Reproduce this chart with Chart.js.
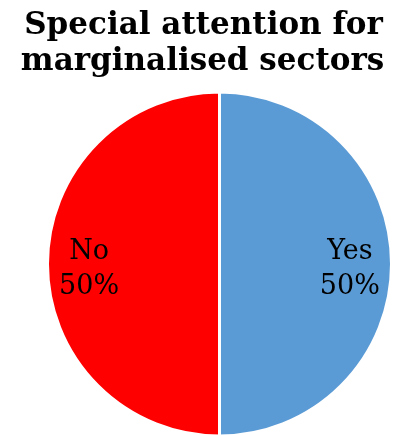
<!DOCTYPE html>
<html>
<head>
<meta charset="utf-8">
<script src="https://cdn.jsdelivr.net/npm/chart.js@4/dist/chart.umd.min.js"></script>
<style>
  html, body { margin: 0; padding: 0; background: #fff; }
  #wrap { width: 396px; height: 435px; }
</style>
</head>
<body>
<div id="wrap"><canvas id="c" width="396" height="435"></canvas></div>
<script>
const titleLines = ["Special attention for", "marginalised sectors"];
const categories = ["No", "Yes"];
const shares = [50, 50];
const sliceColors = ["#FF0000", "#5B9BD5"];

const SERIF = '"DejaVu Serif", "Liberation Serif", serif';

// Two-line bold title; each line is squeezed horizontally to its target width
const titlePlugin = {
  id: 'titleText',
  afterDraw(chart) {
    const ctx = chart.ctx;
    const lines = [
      { text: titleLines[0], cx: 203.5, base: 34, width: 363 },
      { text: titleLines[1], cx: 202.5, base: 70, width: 375 }
    ];
    ctx.save();
    ctx.fillStyle = '#000';
    ctx.textAlign = 'center';
    ctx.textBaseline = 'alphabetic';
    ctx.font = 'bold 31px ' + SERIF;
    lines.forEach(l => {
      const w = ctx.measureText(l.text).width;
      const sx = Math.min(1, l.width / w);
      ctx.save();
      ctx.translate(l.cx, l.base);
      ctx.scale(sx, 1);
      ctx.fillText(l.text, 0, 0);
      ctx.restore();
    });
    ctx.restore();
  }
};

// Category name and percentage inside each slice
const sliceLabels = {
  id: 'sliceLabels',
  afterDatasetsDraw(chart) {
    const ctx = chart.ctx;
    const meta = chart.getDatasetMeta(0);
    const total = shares.reduce((a, b) => a + b, 0);
    ctx.save();
    ctx.fillStyle = '#000';
    ctx.textAlign = 'center';
    ctx.textBaseline = 'alphabetic';
    ctx.font = '27px ' + SERIF;
    meta.data.forEach((arc, i) => {
      const p = arc.getProps(['x', 'y', 'startAngle', 'endAngle', 'outerRadius'], true);
      const mid = (p.startAngle + p.endAngle) / 2;
      const r = p.outerRadius * 0.758;
      const x = p.x + Math.cos(mid) * r;
      const y = p.y + Math.sin(mid) * r;
      const pct = Math.round(shares[i] / total * 100) + '%';
      ctx.fillText(categories[i], x, y - 5);
      ctx.fillText(pct, x, y + 30);
    });
    ctx.restore();
  }
};

new Chart(document.getElementById('c'), {
  type: 'pie',
  data: {
    labels: categories,
    datasets: [{
      data: shares,
      backgroundColor: sliceColors,
      borderColor: '#FFFFFF',
      borderWidth: 3
    }]
  },
  options: {
    responsive: false,
    animation: false,
    rotation: 180,
    radius: 172,
    layout: { padding: { top: 93, left: 47, right: 4, bottom: 0 } },
    plugins: {
      legend: { display: false },
      tooltip: { enabled: false },
      title: { display: false }
    }
  },
  plugins: [sliceLabels, titlePlugin]
});
</script>
</body>
</html>
